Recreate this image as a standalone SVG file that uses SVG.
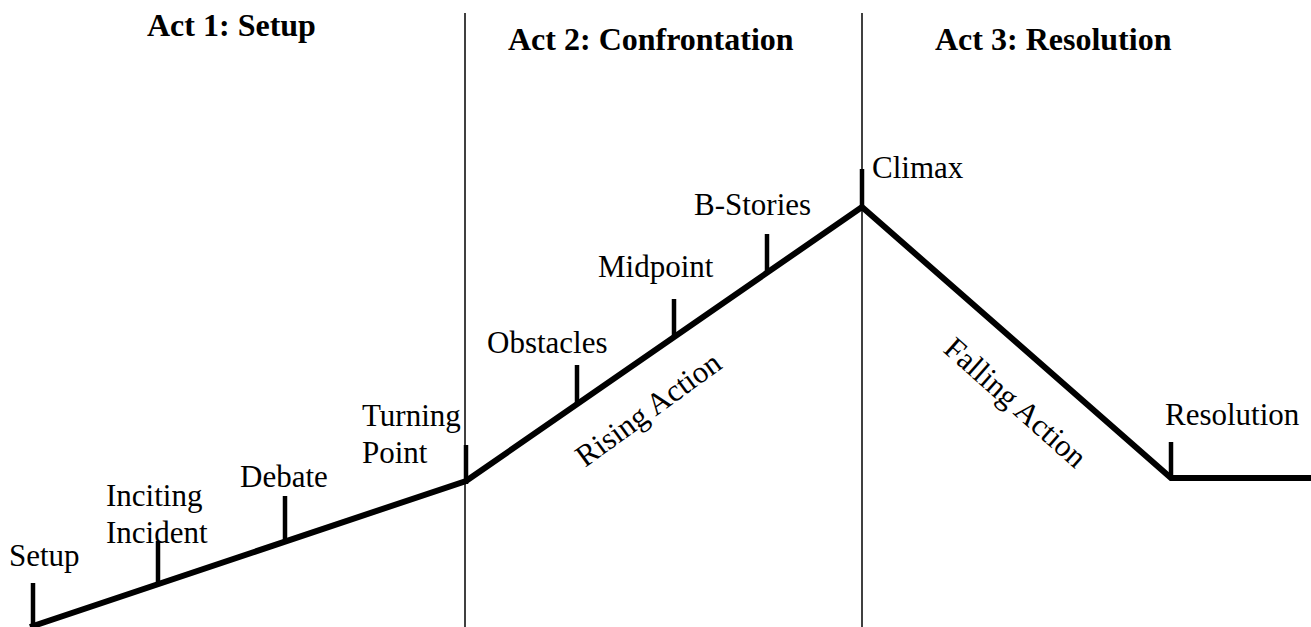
<svg xmlns="http://www.w3.org/2000/svg" width="1311" height="627" viewBox="0 0 1311 627">
<style>
.t{font-family:"Liberation Serif","Times New Roman",serif;font-size:31px;fill:#000}
.h{font-family:"Liberation Serif","Times New Roman",serif;font-size:32px;font-weight:bold;fill:#000}
.div{stroke:#000;stroke-width:1.5;fill:none}
.arc{stroke:#000;stroke-width:6;fill:none;stroke-linejoin:miter}
.tick{stroke:#000;stroke-width:4.5}
</style>
<rect width="1311" height="627" fill="#fff"/>
<g id="acts">
<text class="h" x="147" y="36">Act 1: Setup</text>
<text class="h" x="508" y="50">Act 2: Confrontation</text>
<text class="h" x="935" y="50">Act 3: Resolution</text>
</g>
<g id="dividers">
<line class="div" x1="465" y1="13" x2="465" y2="627"/>
<line class="div" x1="862" y1="13" x2="862" y2="627"/>
</g>
<g id="connectors">
<polyline class="arc" points="30,627 466,481 862,207 1171,478 1311,478"/>
</g>
<g id="setup"><line class="tick" x1="33" y1="583" x2="33" y2="625"/><text class="t" x="9" y="566">Setup</text></g>
<g id="inciting"><line class="tick" x1="158" y1="541" x2="158" y2="584"/><text class="t" x="106"><tspan x="106" y="506">Inciting</tspan><tspan x="106" y="543">Incident</tspan></text></g>
<g id="debate"><line class="tick" x1="285" y1="496" x2="285" y2="541"/><text class="t" x="240" y="487">Debate</text></g>
<g id="turning"><line class="tick" x1="466" y1="445" x2="466" y2="484"/><text class="t"><tspan x="362" y="426">Turning</tspan><tspan x="362" y="463">Point</tspan></text></g>
<g id="obstacles"><line class="tick" x1="577" y1="365" x2="577" y2="404"/><text class="t" x="487" y="353">Obstacles</text></g>
<g id="midpoint"><line class="tick" x1="674" y1="299" x2="674" y2="337"/><text class="t" x="598" y="277">Midpoint</text></g>
<g id="bstories"><line class="tick" x1="767" y1="234" x2="767" y2="272"/><text class="t" x="694" y="215">B-Stories</text></g>
<g id="climax"><line class="tick" x1="862" y1="169" x2="862" y2="207"/><text class="t" x="872" y="178">Climax</text></g>
<g id="resolution"><line class="tick" x1="1171" y1="442" x2="1171" y2="478"/><text class="t" x="1165" y="425">Resolution</text></g>
<g id="rising"><text class="t" transform="translate(585,468) rotate(-36)">Rising Action</text></g>
<g id="falling"><text class="t" transform="translate(942,351) rotate(41.6)">Falling Action</text></g>
</svg>
